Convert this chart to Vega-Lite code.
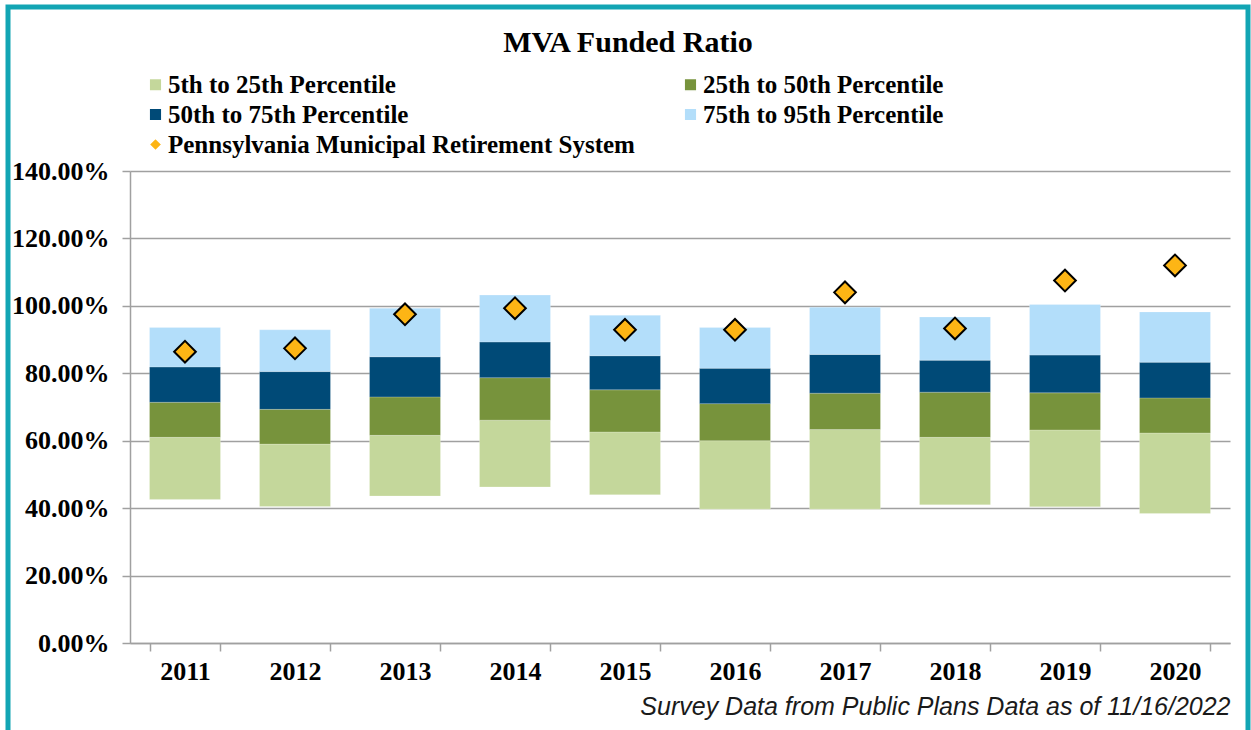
{
  "$schema": "https://vega.github.io/schema/vega-lite/v6.json",
  "autosize": "none",
  "width": 1100,
  "height": 472,
  "padding": {"left": 130, "top": 171, "right": 21, "bottom": 87},
  "background": "white",
  "title": {
    "text": "MVA Funded Ratio",
    "font": "Liberation Serif",
    "fontSize": 30,
    "fontWeight": "bold",
    "color": "black",
    "anchor": "middle",
    "frame": "group",
    "dx": -52,
    "offset": -53
  },
  "config": {
    "view": {"stroke": null},
    "axis": {
      "labelFont": "Liberation Serif",
      "labelFontWeight": "bold",
      "labelFontSize": 26,
      "labelColor": "black",
      "domainColor": "#A0A0A0",
      "domainWidth": 1.5,
      "tickColor": "#A0A0A0",
      "tickWidth": 1.5,
      "tickSize": 8
    },
    "legend": {
      "title": null,
      "orient": "none",
      "legendX": 13,
      "legendY": -99,
      "direction": "horizontal",
      "columns": 2,
      "columnPadding": 43,
      "rowPadding": 4,
      "padding": 0,
      "strokeWidth": 5,
      "labelFont": "Liberation Serif",
      "labelFontWeight": "bold",
      "labelFontSize": 25,
      "labelColor": "black",
      "labelLimit": 700,
      "labelOffset": 0,
      "symbolSize": 160
    }
  },
  "datasets": {
    "bars": [
      {"year": "2011", "series": "5th to 25th Percentile", "lo": 0.426, "hi": 0.610},
      {"year": "2011", "series": "25th to 50th Percentile", "lo": 0.610, "hi": 0.714},
      {"year": "2011", "series": "50th to 75th Percentile", "lo": 0.714, "hi": 0.819},
      {"year": "2011", "series": "75th to 95th Percentile", "lo": 0.819, "hi": 0.936},
      {"year": "2012", "series": "5th to 25th Percentile", "lo": 0.405, "hi": 0.590},
      {"year": "2012", "series": "25th to 50th Percentile", "lo": 0.590, "hi": 0.693},
      {"year": "2012", "series": "50th to 75th Percentile", "lo": 0.693, "hi": 0.805},
      {"year": "2012", "series": "75th to 95th Percentile", "lo": 0.805, "hi": 0.929},
      {"year": "2013", "series": "5th to 25th Percentile", "lo": 0.436, "hi": 0.616},
      {"year": "2013", "series": "25th to 50th Percentile", "lo": 0.616, "hi": 0.730},
      {"year": "2013", "series": "50th to 75th Percentile", "lo": 0.730, "hi": 0.849},
      {"year": "2013", "series": "75th to 95th Percentile", "lo": 0.849, "hi": 0.993},
      {"year": "2014", "series": "5th to 25th Percentile", "lo": 0.463, "hi": 0.661},
      {"year": "2014", "series": "25th to 50th Percentile", "lo": 0.661, "hi": 0.787},
      {"year": "2014", "series": "50th to 75th Percentile", "lo": 0.787, "hi": 0.893},
      {"year": "2014", "series": "75th to 95th Percentile", "lo": 0.893, "hi": 1.032},
      {"year": "2015", "series": "5th to 25th Percentile", "lo": 0.440, "hi": 0.626},
      {"year": "2015", "series": "25th to 50th Percentile", "lo": 0.626, "hi": 0.751},
      {"year": "2015", "series": "50th to 75th Percentile", "lo": 0.751, "hi": 0.852},
      {"year": "2015", "series": "75th to 95th Percentile", "lo": 0.852, "hi": 0.972},
      {"year": "2016", "series": "5th to 25th Percentile", "lo": 0.397, "hi": 0.600},
      {"year": "2016", "series": "25th to 50th Percentile", "lo": 0.600, "hi": 0.710},
      {"year": "2016", "series": "50th to 75th Percentile", "lo": 0.710, "hi": 0.815},
      {"year": "2016", "series": "75th to 95th Percentile", "lo": 0.815, "hi": 0.936},
      {"year": "2017", "series": "5th to 25th Percentile", "lo": 0.397, "hi": 0.633},
      {"year": "2017", "series": "25th to 50th Percentile", "lo": 0.633, "hi": 0.741},
      {"year": "2017", "series": "50th to 75th Percentile", "lo": 0.741, "hi": 0.856},
      {"year": "2017", "series": "75th to 95th Percentile", "lo": 0.856, "hi": 0.996},
      {"year": "2018", "series": "5th to 25th Percentile", "lo": 0.410, "hi": 0.610},
      {"year": "2018", "series": "25th to 50th Percentile", "lo": 0.610, "hi": 0.744},
      {"year": "2018", "series": "50th to 75th Percentile", "lo": 0.744, "hi": 0.839},
      {"year": "2018", "series": "75th to 95th Percentile", "lo": 0.839, "hi": 0.967},
      {"year": "2019", "series": "5th to 25th Percentile", "lo": 0.404, "hi": 0.632},
      {"year": "2019", "series": "25th to 50th Percentile", "lo": 0.632, "hi": 0.742},
      {"year": "2019", "series": "50th to 75th Percentile", "lo": 0.742, "hi": 0.854},
      {"year": "2019", "series": "75th to 95th Percentile", "lo": 0.854, "hi": 1.004},
      {"year": "2020", "series": "5th to 25th Percentile", "lo": 0.384, "hi": 0.623},
      {"year": "2020", "series": "25th to 50th Percentile", "lo": 0.623, "hi": 0.727},
      {"year": "2020", "series": "50th to 75th Percentile", "lo": 0.727, "hi": 0.833},
      {"year": "2020", "series": "75th to 95th Percentile", "lo": 0.833, "hi": 0.982}
    ],
    "pmrs": [
      {"year": "2011", "series": "Pennsylvania Municipal Retirement System", "value": 0.864},
      {"year": "2012", "series": "Pennsylvania Municipal Retirement System", "value": 0.874},
      {"year": "2013", "series": "Pennsylvania Municipal Retirement System", "value": 0.975},
      {"year": "2014", "series": "Pennsylvania Municipal Retirement System", "value": 0.993},
      {"year": "2015", "series": "Pennsylvania Municipal Retirement System", "value": 0.929},
      {"year": "2016", "series": "Pennsylvania Municipal Retirement System", "value": 0.929},
      {"year": "2017", "series": "Pennsylvania Municipal Retirement System", "value": 1.040},
      {"year": "2018", "series": "Pennsylvania Municipal Retirement System", "value": 0.933},
      {"year": "2019", "series": "Pennsylvania Municipal Retirement System", "value": 1.075},
      {"year": "2020", "series": "Pennsylvania Municipal Retirement System", "value": 1.120}
    ]
  },
  "layer": [
    {
      "data": {"name": "bars"},
      "mark": {"type": "bar", "stroke": "white", "strokeOpacity": 0.35, "strokeWidth": 0.6},
      "encoding": {
        "x": {
          "field": "year",
          "type": "ordinal",
          "scale": {"paddingInner": 0.355, "paddingOuter": 0.1775},
          "axis": {
            "labelAngle": 0,
            "tickBand": "extent",
            "labelPadding": 7,
            "title": "Survey Data from Public Plans Data as of 11/16/2022",
            "titleFont": "Liberation Sans",
            "titleFontStyle": "italic",
            "titleFontWeight": "normal",
            "titleFontSize": 25,
            "titleColor": "#1a1a1a",
            "titleAnchor": "end",
            "titlePadding": 10
          }
        },
        "y": {
          "field": "lo",
          "type": "quantitative",
          "scale": {"domain": [0, 1.4], "nice": false},
          "axis": {
            "values": [0, 0.2, 0.4, 0.6, 0.8, 1.0, 1.2, 1.4],
            "format": ".2%",
            "title": null,
            "grid": true,
            "gridColor": "#A0A0A0",
            "gridWidth": 1.5,
            "labelPadding": 13
          }
        },
        "y2": {"field": "hi"},
        "color": {
          "field": "series",
          "type": "nominal",
          "scale": {
            "domain": ["5th to 25th Percentile", "25th to 50th Percentile", "50th to 75th Percentile", "75th to 95th Percentile", "Pennsylvania Municipal Retirement System"],
            "range": ["#C4D79B", "#77933C", "#004A77", "#B3DEFA", "#FDB515"]
          }
        }
      }
    },
    {
      "data": {"name": "pmrs"},
      "mark": {"type": "point", "filled": true, "fill": "#FDB515", "strokeWidth": 2, "size": 470, "opacity": 1},
      "encoding": {
        "x": {"field": "year", "type": "ordinal"},
        "y": {"field": "value", "type": "quantitative"},
        "stroke": {
          "field": "value",
          "type": "quantitative",
          "scale": {"range": ["black", "black"]},
          "legend": {
            "type": "gradient",
            "direction": "horizontal",
            "orient": "none",
            "legendX": -122,
            "legendY": -164,
            "gradientLength": 1240,
            "gradientThickness": 740,
            "gradientOpacity": 0,
            "gradientStrokeWidth": 0,
            "labelExpr": "''",
            "labelOpacity": 0,
            "labelFontSize": 1,
            "labelOffset": 0,
            "padding": 0,
            "title": null,
            "strokeColor": "#12A5B4"
          }
        },
        "shape": {
          "field": "series",
          "type": "nominal",
          "scale": {
            "domain": ["5th to 25th Percentile", "25th to 50th Percentile", "50th to 75th Percentile", "75th to 95th Percentile", "Pennsylvania Municipal Retirement System"],
            "range": ["square", "square", "square", "square", "diamond"]
          }
        }
      }
    }
  ]
}
